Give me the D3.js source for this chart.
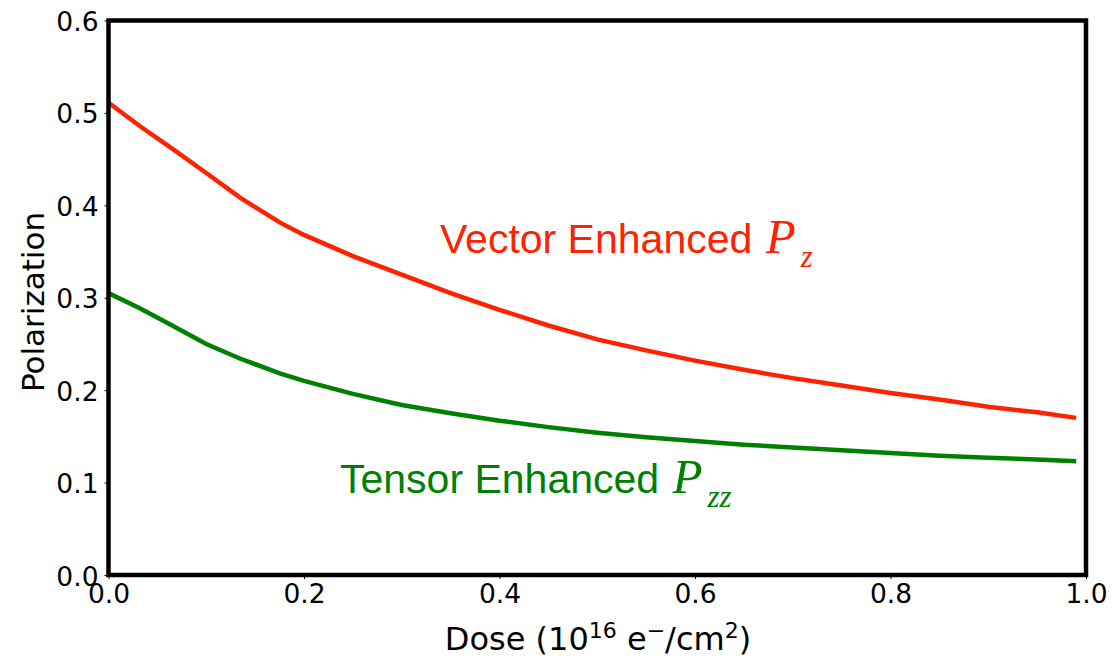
<!DOCTYPE html>
<html>
<head>
<meta charset="utf-8">
<script src="https://cdn.jsdelivr.net/npm/d3@7"></script>
<style>
  html, body { margin: 0; padding: 0; background: #fff; }
  svg { display: block; }
</style>
</head>
<body>
<svg id="chart" width="1116" height="660"></svg>
<script>
// ---- data ----
const dose = [0, 0.033, 0.067, 0.1, 0.135, 0.176, 0.2, 0.25, 0.3, 0.35, 0.4, 0.45, 0.5, 0.55, 0.6, 0.65, 0.7, 0.75, 0.8, 0.85, 0.9, 0.95, 0.99];
const vectorPz = [0.511, 0.485, 0.460, 0.435, 0.408, 0.381, 0.368, 0.345, 0.325, 0.305, 0.287, 0.270, 0.255, 0.243, 0.232, 0.222, 0.213, 0.205, 0.197, 0.190, 0.182, 0.176, 0.170];
const tensorPzz = [0.305, 0.288, 0.269, 0.250, 0.234, 0.218, 0.210, 0.196, 0.184, 0.175, 0.167, 0.160, 0.154, 0.149, 0.145, 0.141, 0.138, 0.135, 0.132, 0.129, 0.127, 0.125, 0.123];
const xTicks = [0.0, 0.2, 0.4, 0.6, 0.8, 1.0];
const yTicks = [0.0, 0.1, 0.2, 0.3, 0.4, 0.5, 0.6];

const RED = "#ff2200";
const GREEN = "#008000";

const svg = d3.select("#chart");
const x = d3.scaleLinear().domain([0, 1]).range([108.5, 1086]);
const y = d3.scaleLinear().domain([0, 0.6]).range([575, 20.5]);

const tickFont = "DejaVu Sans, sans-serif";

// axes
const xAxis = svg.append("g").attr("transform", `translate(0,${y(0)})`)
  .call(d3.axisBottom(x).tickValues(xTicks).tickFormat(d3.format(".1f")).tickSize(4).tickPadding(5));
const yAxis = svg.append("g").attr("transform", `translate(${x(0)},0)`)
  .call(d3.axisLeft(y).tickValues(yTicks).tickFormat(d3.format(".1f")).tickSize(4).tickPadding(6));
[xAxis, yAxis].forEach(a => {
  a.select(".domain").remove();
  a.selectAll(".tick line").attr("stroke", "#000").attr("stroke-width", 1);
  a.selectAll(".tick text").attr("font-family", tickFont).attr("font-size", 26.5).attr("fill", "#000");
});
xAxis.selectAll(".tick text").attr("dy", "0.72em");
yAxis.selectAll(".tick text").attr("dy", "0.38em");

// lines
const line = vals => d3.line().x((d, i) => x(dose[i])).y(d => y(d))(vals);
svg.append("path").attr("d", line(vectorPz)).attr("fill", "none").attr("stroke", RED).attr("stroke-width", 4.5);
svg.append("path").attr("d", line(tensorPzz)).attr("fill", "none").attr("stroke", GREEN).attr("stroke-width", 4.5);

// frame
svg.append("rect").attr("x", x(0)).attr("y", y(0.6)).attr("width", x(1) - x(0)).attr("height", y(0) - y(0.6))
  .attr("fill", "none").attr("stroke", "#000").attr("stroke-width", 4.5);

// axis labels
const xl = svg.append("text").attr("x", 598).attr("y", 650).attr("text-anchor", "middle")
  .attr("font-family", tickFont).attr("font-size", 32).attr("fill", "#000");
xl.append("tspan").text("Dose (10");
xl.append("tspan").attr("font-size", 22).attr("dy", -12).text("16");
xl.append("tspan").attr("dy", 12).text(" e");
xl.append("tspan").attr("font-size", 22).attr("dy", -12).text("\u2212");
xl.append("tspan").attr("dy", 12).text("/cm");
xl.append("tspan").attr("font-size", 22).attr("dy", -12).text("2");
xl.append("tspan").attr("dy", 12).text(")");

svg.append("text").attr("transform", "translate(44,302) rotate(-90)").attr("text-anchor", "middle")
  .attr("font-family", tickFont).attr("font-size", 31).attr("fill", "#000").text("Polarization");

// annotations
function annot(xp, yp, label, sub, color) {
  const t = svg.append("text").attr("x", xp).attr("y", yp).attr("fill", color);
  t.append("tspan").attr("font-family", "Liberation Sans, Arial, sans-serif").attr("font-size", 41).text(label + " ");
  t.append("tspan").attr("font-family", "Liberation Serif, Times New Roman, serif").attr("font-style", "italic").attr("font-size", 49).attr("dx", 2).text("P");
  t.append("tspan").attr("font-family", "Liberation Serif, Times New Roman, serif").attr("font-style", "italic").attr("font-size", 31).attr("dx", 5).attr("dy", 14).text(sub);
}
annot(440, 253, "Vector Enhanced", "z", RED);
annot(340, 493, "Tensor Enhanced", "zz", GREEN);
</script>
</body>
</html>
